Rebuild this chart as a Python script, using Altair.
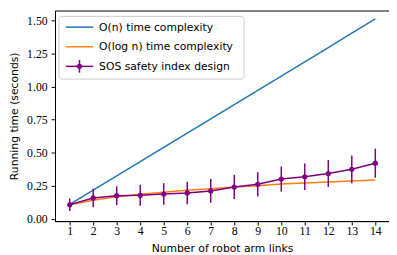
import altair as alt
import pandas as pd

n_links = list(range(1, 15))
linear_time = [0.108, 0.216, 0.324, 0.432, 0.540, 0.648, 0.756, 0.864, 0.972, 1.080, 1.188, 1.296, 1.404, 1.512]
log_time = [0.105, 0.140, 0.165, 0.185, 0.200, 0.215, 0.227, 0.240, 0.250, 0.262, 0.270, 0.277, 0.285, 0.293]
sos_time = [0.105, 0.157, 0.174, 0.177, 0.187, 0.195, 0.210, 0.240, 0.260, 0.300, 0.317, 0.342, 0.374, 0.420]
sos_err = [0.047, 0.070, 0.072, 0.080, 0.082, 0.085, 0.090, 0.092, 0.092, 0.095, 0.100, 0.102, 0.105, 0.110]

names = ["O(n) time complexity", "O(log n) time complexity", "SOS safety index design"]
colors = ["#1f77b4", "#ff7f0e", "#800080"]
y_ticks = [0.0, 0.25, 0.5, 0.75, 1.0, 1.25, 1.5]

rows = []
for i, n in enumerate(n_links):
    rows.append({"n": n, "t": linear_time[i], "series": names[0], "lo": linear_time[i], "hi": linear_time[i]})
    rows.append({"n": n, "t": log_time[i], "series": names[1], "lo": log_time[i], "hi": log_time[i]})
    rows.append({"n": n, "t": sos_time[i], "series": names[2],
                 "lo": sos_time[i] - sos_err[i], "hi": sos_time[i] + sos_err[i]})
df = pd.DataFrame(rows)

xs = alt.Scale(domain=[0.375, 14.583], nice=False, zero=False)
ys = alt.Scale(domain=[-0.0185, 1.576], nice=False, zero=False)

x_axis = alt.Axis(values=n_links, format="d", title="Number of robot arm links",
                  labelPadding=1, titlePadding=6)
y_axis = alt.Axis(values=y_ticks, format=".2f", title="Running time (seconds)",
                  labelPadding=4, titlePadding=7)

X = alt.X("n:Q", scale=xs, axis=x_axis)
Y = alt.Y("t:Q", scale=ys, axis=y_axis)
YLO = alt.Y("lo:Q", scale=ys, axis=y_axis)

base = alt.Chart(df)

lines = base.mark_line(strokeWidth=1.5).encode(
    x=X, y=Y,
    color=alt.Color("series:N", scale=alt.Scale(domain=names, range=colors), legend=None),
)

sos = base.transform_filter(alt.datum.series == names[2])
errbars = sos.mark_rule(color=colors[2], strokeWidth=1.5).encode(x=X, y=YLO, y2="hi:Q")
dots = sos.mark_circle(color=colors[2], size=28, opacity=1).encode(x=X, y=Y)

# ---- legend (drawn as guide decoration inside the plot area) ----
one = pd.DataFrame({"k": [0]})
legend_layers = [
    alt.Chart(one).mark_rect(fill="white", fillOpacity=0.8, stroke="#cccccc", strokeWidth=1,
                             cornerRadius=3).encode(
        x=alt.value(4), x2=alt.value(193), y=alt.value(6), y2=alt.value(70))
]
row_y = [17, 37, 57]
for i, name in enumerate(names):
    lab = pd.DataFrame({"label": [name]})
    legend_layers.append(
        alt.Chart(lab).mark_rule(color=colors[i], strokeWidth=1.5).encode(
            x=alt.value(11), x2=alt.value(39), y=alt.value(row_y[i]))
    )
    legend_layers.append(
        alt.Chart(lab).mark_text(align="left", baseline="middle", font="DejaVu Sans",
                                 fontSize=11, color="black").encode(
            x=alt.value(45), y=alt.value(row_y[i] + 0.5), text="label:N")
    )
legend_layers.append(
    alt.Chart(one).mark_rule(color=colors[2], strokeWidth=1.5).encode(
        x=alt.value(25), y=alt.value(row_y[2] - 6.5), y2=alt.value(row_y[2] + 6.5))
)
legend_layers.append(
    alt.Chart(one).mark_circle(color=colors[2], size=28, opacity=1).encode(
        x=alt.value(25), y=alt.value(row_y[2]))
)

chart = alt.layer(lines, errbars, dots, *legend_layers).properties(
    width=341, height=215,
    autosize=alt.AutoSizeParams(type="none"),
    padding={"left": 48, "top": 0, "right": 0, "bottom": 31},
    background="white",
).configure_view(
    stroke="black", strokeWidth=1
).configure_axis(
    grid=False, labelFont="Liberation Serif", labelFontSize=12, labelColor="black",
    tickSize=4, tickColor="black", domainColor="black", tickWidth=1, domainWidth=1,
    titleFont="DejaVu Sans", titleFontSize=11, titleFontWeight="normal", titleColor="black",
    labelFlush=False, labelOverlap=False,
)

chart.save("out.html", embed_options={"renderer": "svg", "actions": False})
